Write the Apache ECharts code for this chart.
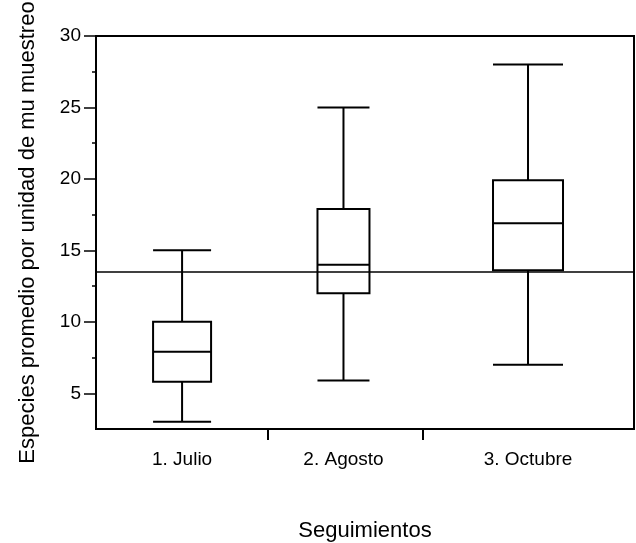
<!DOCTYPE html>
<html>
<head>
<meta charset="utf-8">
<title>Seguimientos</title>
<script src="https://cdn.jsdelivr.net/npm/echarts@6/dist/echarts.min.js"></script>
<style>
  html, body { margin: 0; padding: 0; background: #fff; }
  #chart { width: 636px; height: 543px; }
</style>
</head>
<body>
<div id="chart"></div>
<script>
// categorias del seguimiento
var categories = ['1. Julio', '2. Agosto', '3. Octubre'];
// posicion de cada caja sobre el eje x (0-100)
var catPositions = [16, 46, 80.3];
// marcas del eje x entre categorias
var xTickValues = [32, 60.8];

// [min, Q1, mediana, Q3, max]
var julio = [3, 5.8, 7.9, 10, 15];
var agosto = [5.9, 12, 14, 17.9, 25];
var octubre = [7, 13.6, 16.9, 19.9, 28];
var boxWidths = [58, 52, 70];

// linea horizontal de referencia
var refLine = 13.5;

var yMajorTicks = [5, 10, 15, 20, 25, 30];
var yMinorTicks = [7.5, 12.5, 17.5, 22.5, 27.5];

var font = 'Liberation Sans, Arial, sans-serif';
var boxSets = [julio, agosto, octubre];

// cada caja en su propio eje x para que no se desplacen entre si
var series = boxSets.map(function (vals, i) {
    var s = {
        name: categories[i],
        type: 'boxplot',
        xAxisIndex: i,
        yAxisIndex: 0,
        boxWidth: [boxWidths[i], boxWidths[i]],
        itemStyle: {
            color: 'transparent',
            borderColor: '#000',
            borderWidth: 2
        },
        data: [[catPositions[i]].concat(vals)]
    };
    if (i === 0) {
        s.markLine = {
            silent: true,
            symbol: 'none',
            label: { show: false },
            lineStyle: { color: '#000', width: 1.5, type: 'solid' },
            data: [{ yAxis: refLine }]
        };
    }
    return s;
});

var mainXAxis = {
    type: 'value',
    min: 0,
    max: 100,
    name: 'Seguimientos',
    nameLocation: 'middle',
    nameGap: 91,
    nameTextStyle: { color: '#000', fontSize: 22, fontFamily: font },
    axisLine: { show: true, lineStyle: { color: '#000', width: 2 } },
    axisTick: {
        show: true,
        length: 11,
        customValues: xTickValues,
        lineStyle: { color: '#000', width: 2 }
    },
    axisLabel: {
        show: true,
        margin: 21,
        color: '#000',
        fontSize: 19,
        fontFamily: font,
        customValues: catPositions,
        formatter: function (v) {
            var best = 0;
            for (var k = 1; k < catPositions.length; k++) {
                if (Math.abs(catPositions[k] - v) < Math.abs(catPositions[best] - v)) best = k;
            }
            return categories[best];
        }
    },
    splitLine: { show: false }
};

var hiddenXAxis = { type: 'value', min: 0, max: 100, show: false };

var option = {
    animation: false,
    backgroundColor: '#fff',
    grid: {
        left: 96,
        right: 2,
        top: 36,
        bottom: 114,
        outerBoundsMode: 'none',
        show: true,
        borderColor: '#000',
        borderWidth: 2,
        backgroundColor: 'transparent'
    },
    xAxis: [mainXAxis, hiddenXAxis, hiddenXAxis],
    yAxis: [{
        type: 'value',
        min: 2.5,
        max: 30,
        name: 'Especies promedio por unidad de mu muestreo',
        nameLocation: 'middle',
        nameGap: 57,
        nameRotate: 90,
        nameTextStyle: { color: '#000', fontSize: 22, fontFamily: font },
        axisLine: { show: true, lineStyle: { color: '#000', width: 2 } },
        axisTick: {
            show: true,
            length: 12,
            customValues: yMajorTicks,
            lineStyle: { color: '#000', width: 1.5 }
        },
        axisLabel: {
            show: true,
            margin: 15,
            color: '#000',
            fontSize: 19,
            fontFamily: font,
            customValues: yMajorTicks
        },
        splitLine: { show: false }
    }, {
        // marcas menores
        type: 'value',
        min: 2.5,
        max: 30,
        position: 'left',
        axisLine: { show: false },
        axisTick: {
            show: true,
            length: 4,
            customValues: yMinorTicks,
            lineStyle: { color: '#000', width: 1.5 }
        },
        axisLabel: { show: false },
        splitLine: { show: false }
    }],
    series: series
};

var chart = echarts.init(document.getElementById('chart'));
chart.setOption(option);
</script>
</body>
</html>
